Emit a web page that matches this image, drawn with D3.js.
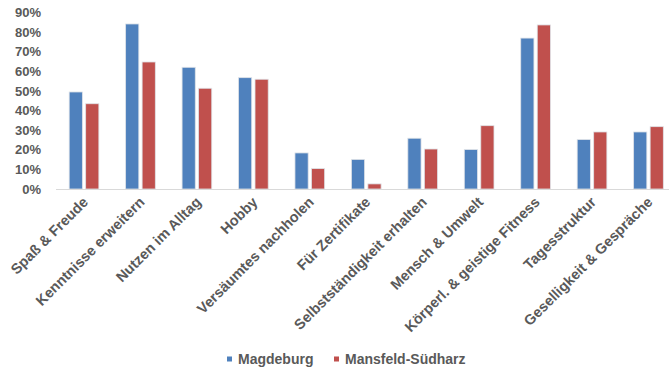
<!DOCTYPE html>
<html>
<head>
<meta charset="utf-8">
<script src="https://cdn.jsdelivr.net/npm/d3@7"></script>
<style>
  body { margin: 0; background: #fff; }
  text { font-family: "Liberation Sans", Arial, sans-serif; font-weight: bold; fill: #595959; }
</style>
</head>
<body>
<div id="container"></div>
<script>
const categories = [
    'Spaß & Freude', 'Kenntnisse erweitern', 'Nutzen im Alltag', 'Hobby',
    'Versäumtes nachholen', 'Für Zertifikate', 'Selbstständigkeit erhalten',
    'Mensch & Umwelt', 'Körperl. &  geistige Fitness', 'Tagesstruktur',
    'Geselligkeit & Gespräche'
];
const seriesNames = ['Magdeburg', 'Mansfeld-Südharz'];
const magdeburg = [0.495, 0.842, 0.621, 0.568, 0.184, 0.151, 0.259, 0.201, 0.770, 0.252, 0.291];
const mansfeld = [0.435, 0.648, 0.514, 0.560, 0.104, 0.026, 0.204, 0.323, 0.837, 0.291, 0.318];
const yTicks = [0, 0.1, 0.2, 0.3, 0.4, 0.5, 0.6, 0.7, 0.8, 0.9];
const colors = ['#4F81BD', '#C0504D'];

const width = 669;
const height = 369;

const svg = d3.select('#container')
    .append('svg')
    .attr('width', width)
    .attr('height', height);

const x0 = d3.scaleBand()
    .domain(categories)
    .range([55.8, 676.7])
    .paddingInner(0.474)
    .paddingOuter(0.237);

const x1 = d3.scaleBand()
    .domain(seriesNames)
    .range([0, x0.bandwidth()])
    .paddingInner(0.2);

const y = d3.scaleLinear()
    .domain([0, 0.9])
    .range([189, 12.6]);

// y labels, no axis line
const yAxis = svg.append('g')
    .attr('transform', 'translate(41,0)')
    .call(d3.axisLeft(y).tickValues(yTicks).tickSize(0).tickPadding(0).tickFormat(d3.format('.0%')));
yAxis.select('.domain').remove();
yAxis.selectAll('text').style('font-size', '13px').attr('fill', '#595959');

// bars
const rows = categories.map((c, i) => ({ cat: c, vals: [magdeburg[i], mansfeld[i]] }));

svg.append('g')
    .selectAll('g')
    .data(rows)
    .join('g')
    .attr('transform', d => 'translate(' + x0(d.cat) + ',0)')
    .selectAll('rect')
    .data(d => d.vals.map((v, j) => ({ key: seriesNames[j], v: v, j: j })))
    .join('rect')
    .attr('x', d => x1(d.key))
    .attr('y', d => y(d.v))
    .attr('width', x1.bandwidth())
    .attr('height', d => y(0) - y(d.v))
    .attr('fill', d => colors[d.j])
    .attr('stroke', '#dfe3e8')
    .attr('stroke-width', 0.8);

// x axis line and rotated labels
svg.append('line')
    .attr('x1', 56).attr('x2', width)
    .attr('y1', y(0) + 0.5).attr('y2', y(0) + 0.5)
    .attr('stroke', '#d9d9d9')
    .attr('stroke-width', 1);

svg.append('g')
    .selectAll('text')
    .data(categories)
    .join('text')
    .attr('transform', d => 'translate(' + (x0(d) + x0.bandwidth() / 2 + 5) + ',203) rotate(-45)')
    .attr('text-anchor', 'end')
    .style('font-size', '14.5px')
    .text(d => d);

// legend
const legend = svg.append('g')
    .selectAll('g')
    .data(seriesNames)
    .join('g')
    .attr('transform', (d, i) => 'translate(' + [227, 334][i] + ',0)');

legend.append('rect')
    .attr('x', 0).attr('y', 356.5)
    .attr('width', 5).attr('height', 5)
    .attr('fill', (d, i) => colors[i]);

legend.append('text')
    .attr('x', 11)
    .attr('y', 364)
    .style('font-size', '14px')
    .text(d => d);
</script>
</body>
</html>
